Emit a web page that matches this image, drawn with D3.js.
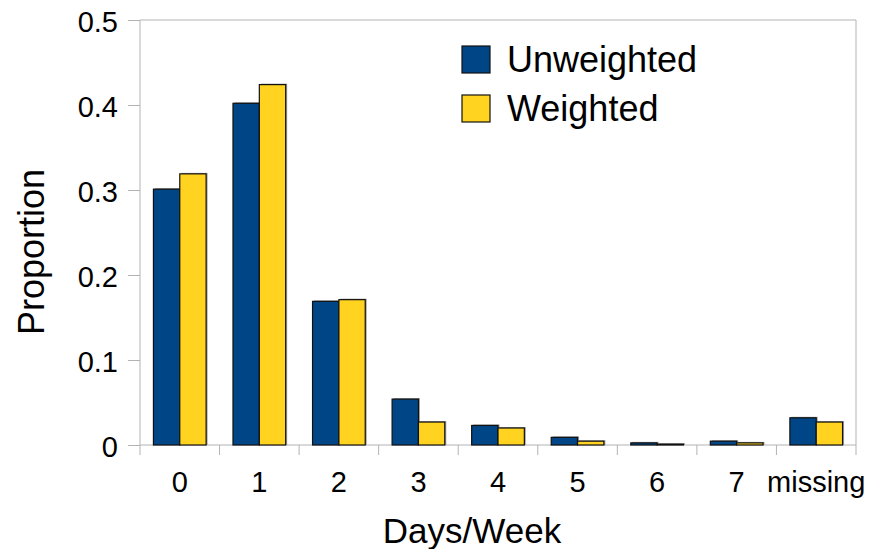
<!DOCTYPE html>
<html>
<head>
<meta charset="utf-8">
<script src="https://cdn.jsdelivr.net/npm/d3@7"></script>
<style>
  html, body { margin: 0; padding: 0; background: #fff; }
  svg { display: block; font-family: "Liberation Sans", Arial, sans-serif; }
</style>
</head>
<body>
<svg id="chart" width="873" height="549"></svg>
<script>
const categories = ["0", "1", "2", "3", "4", "5", "6", "7", "missing"];
const seriesNames = ["Unweighted", "Weighted"];
const unweighted = [0.301, 0.402, 0.169, 0.054, 0.023, 0.009, 0.0025, 0.0045, 0.032];
const weighted   = [0.319, 0.424, 0.171, 0.027, 0.020, 0.0045, 0.001, 0.0025, 0.027];
const yTicks = [0, 0.1, 0.2, 0.3, 0.4, 0.5];
const colors = ["#004586", "#ffd320"];

const svg = d3.select("#chart");
const plotL = 140, plotR = 856, plotT = 20, plotB = 445;
const gridColor = "#b3b3b3";

const x = d3.scaleBand().domain(categories).range([plotL, plotR]).padding(0);
const x1 = d3.scaleBand().domain(seriesNames).range([0, x.bandwidth()])
  .paddingInner(0).paddingOuter(0.51);
const y = d3.scaleLinear().domain([0, 0.5]).range([plotB, plotT]);

// plot frame (top and right)
svg.append("line").attr("x1", plotL).attr("x2", plotR).attr("y1", plotT).attr("y2", plotT)
  .attr("stroke", gridColor).attr("stroke-width", 1);
svg.append("line").attr("x1", plotR).attr("x2", plotR).attr("y1", plotT).attr("y2", plotB + 10)
  .attr("stroke", gridColor).attr("stroke-width", 1);

// y axis
const yAxis = d3.axisLeft(y).tickValues(yTicks).tickSize(12).tickPadding(10)
  .tickFormat(d => d === 0 ? "0" : d3.format(".1f")(d));
const gy = svg.append("g").attr("transform", `translate(${plotL},0)`).call(yAxis);
gy.select(".domain").remove();
gy.selectAll(".tick line").attr("stroke", gridColor);
gy.selectAll(".tick text").attr("font-size", 29).attr("fill", "#000")
  .attr("font-family", '"Liberation Sans", Arial, sans-serif').attr("dy", "0.38em");
svg.append("line").attr("x1", plotL).attr("x2", plotL).attr("y1", plotT).attr("y2", plotB + 10)
  .attr("stroke", gridColor);

// x axis
const xAxis = d3.axisBottom(x).tickSize(0).tickPadding(26);
const gx = svg.append("g").attr("transform", `translate(0,${plotB})`).call(xAxis);
gx.select(".domain").remove();
gx.selectAll(".tick text").attr("font-size", 29).attr("fill", "#000")
  .attr("font-family", '"Liberation Sans", Arial, sans-serif').attr("dy", "0.71em");
svg.append("line").attr("x1", plotL).attr("x2", plotR).attr("y1", plotB).attr("y2", plotB)
  .attr("stroke", gridColor);
svg.append("g").selectAll("line").data(categories.slice(1)).join("line")
  .attr("x1", d => x(d)).attr("x2", d => x(d))
  .attr("y1", plotB).attr("y2", plotB + 10).attr("stroke", gridColor);

// bars
const data = categories.map((c, i) => ({ cat: c, vals: [unweighted[i], weighted[i]] }));
const groups = svg.append("g").selectAll("g").data(data).join("g")
  .attr("transform", d => `translate(${x(d.cat)},0)`);
const barData = d => d.vals.map((v, j) => ({ name: seriesNames[j], v, j }));
groups.selectAll("rect.shadow").data(barData).join("rect").attr("class", "shadow")
  .attr("x", b => x1(b.name) + 1.5).attr("y", b => y(b.v) - 1)
  .attr("width", x1.bandwidth()).attr("height", b => plotB - y(b.v) + 1)
  .attr("fill", "#8c8c8c").attr("opacity", 0.8);
groups.selectAll("rect.bar").data(barData).join("rect").attr("class", "bar")
  .attr("x", b => x1(b.name)).attr("y", b => y(b.v))
  .attr("width", x1.bandwidth()).attr("height", b => plotB - y(b.v))
  .attr("fill", b => colors[b.j]).attr("stroke", "#111").attr("stroke-width", 1.2);

// legend
const legend = svg.append("g").selectAll("g").data(seriesNames).join("g")
  .attr("transform", (d, i) => `translate(462,${46 + i * 49})`);
legend.append("rect").attr("width", 28).attr("height", 27)
  .attr("fill", (d, i) => colors[i]).attr("stroke", "#111").attr("stroke-width", 1.2);
legend.append("text").attr("x", 45).attr("y", 26).attr("font-size", 36).attr("fill", "#000")
  .text(d => d);

// axis titles
svg.append("text").attr("x", 472).attr("y", 543).attr("text-anchor", "middle")
  .attr("font-size", 35).attr("fill", "#000").text("Days/Week");
svg.append("text").attr("transform", "translate(44,252) rotate(-90)").attr("text-anchor", "middle")
  .attr("font-size", 36).attr("fill", "#000").text("Proportion");
</script>
</body>
</html>
